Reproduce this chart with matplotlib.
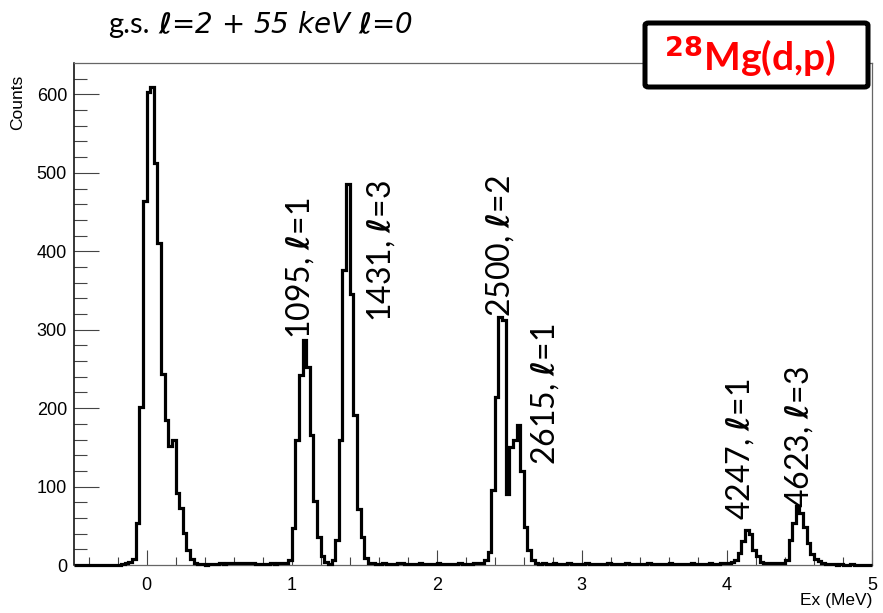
import numpy as np
import matplotlib
matplotlib.use('Agg')
import matplotlib.pyplot as plt
from matplotlib.patches import FancyBboxPatch

# excitation energy histogram, 25 keV bins from -0.5 to 5 MeV
bin_lo = -0.5
bin_hi = 5.0
bin_width = 0.025

counts = [
    0, 0, 0, 0, 0, 0, 0, 0, 0, 0, 0, 0,                       # -0.5 .. -0.2
    0, 1, 2, 4, 8,                                            # -0.2 .. -0.1
    54, 202, 464, 603, 609, 512, 410, 244, 185, 152, 160,     # g.s. + 55 keV
    92, 73, 41, 19, 8, 3,
    1, 1, 0, 1, 1, 1, 2, 1, 2, 2, 3, 2, 2, 3, 2, 2, 1, 1, 1, 1, 2, 1, 2, 2, 3, 6,
    47, 159, 242, 287, 253, 166, 81, 36, 11, 4,               # 1095
    1, 6,
    32, 159, 376, 486, 346, 191, 72, 36, 9, 3,                # 1431
    2, 1, 1, 2, 1, 1, 1, 2, 2, 1, 1, 1, 1, 2, 1, 1, 1, 1, 2, 1, 1, 1, 1, 1, 2, 1,
    1, 1, 2, 2, 3,
    6, 17, 96, 214, 316, 312, 91,                              # 2500
    150, 160, 178, 120, 49, 19, 6, 2,                          # 2615
    1, 2, 1, 1, 2, 1, 1, 1, 2, 1, 1, 1, 1, 2, 1, 1, 1, 1, 1, 2,
    1, 1, 1, 1, 2, 1, 1, 1, 1, 1, 2, 1, 1, 1, 1, 1, 2, 1, 1, 1,
    1, 1, 2, 1, 1, 1, 1, 2, 1, 1, 2, 2, 3, 4,
    6, 15, 30, 44, 40, 19, 11, 4,                              # 4247
    2, 2, 3, 2, 2, 3,
    6, 32, 54, 75, 66, 48, 28, 14, 8, 5, 3,                    # 4623
    1, 1, 1, 0, 1, 0, 0, 1, 0, 0, 0, 0, 0,
]

# state labels: x position, y of text bottom, energy (keV), l transfer
state_x = [1.06, 1.615, 2.434, 2.745, 4.09, 4.50]
state_y = [288, 310, 316, 127, 57, 73]
state_energy = ['1095', '1431', '2500', '2615', '4247', '4623']
state_l = ['1', '3', '2', '1', '1', '3']

edges = np.linspace(bin_lo, bin_hi, len(counts) + 1)

W, H = 883, 613
fig = plt.figure(figsize=(W / 100, H / 100), dpi=100)
ax = fig.add_axes([74 / W, 1 - 565 / H, 798 / W, 502 / H])

ax.stairs(counts, edges, color='black', lw=2.3, clip_on=False, zorder=3)

ax.set_xlim(-0.5, 5)
ax.set_ylim(0, 640)
ax.set_xticks([0, 1, 2, 3, 4, 5])
ax.set_xticks(np.arange(-0.4, 5.0, 0.2), minor=True)
ax.set_yticks(np.arange(0, 700, 100))
ax.set_yticks(np.arange(0, 640, 20), minor=True)

tick_font = {'family': 'Liberation Sans', 'size': 13}
ax.set_xticklabels(['0', '1', '2', '3', '4', '5'], **tick_font)
ax.set_yticklabels([str(v) for v in range(0, 700, 100)], **tick_font)

ax.tick_params(axis='x', which='major', direction='in', length=11, width=0.8,
               color='#444444', pad=9)
ax.tick_params(axis='x', which='minor', direction='in', length=5.5, width=0.8,
               color='#444444')
ax.tick_params(axis='y', which='major', direction='in', length=18, width=0.8,
               color='#444444', pad=5)
ax.tick_params(axis='y', which='minor', direction='in', length=9, width=0.8,
               color='#444444')
for side in ['top', 'right', 'bottom']:
    ax.spines[side].set_color('#666666')
    ax.spines[side].set_linewidth(0.9)
ax.spines['left'].set_color('black')
ax.spines['left'].set_linewidth(1.1)

fig.text(872 / W, 1 - 600 / H, 'Ex (MeV)', ha='right', va='center',
         family='Liberation Sans', fontsize=12.5)
fig.text(18 / W, 1 - 130 / H, 'Counts', ha='center', va='bottom', rotation=90,
         family='Liberation Sans', fontsize=12.5)

# peak labels
for x, y, e, l in zip(state_x, state_y, state_energy, state_l):
    ax.text(x, y, e + r', $\boldsymbol{\ell}$=' + l, rotation=90,
            ha='center', va='bottom', family='Lato', fontsize=23, zorder=4)

# header line above the frame
fig.text(108 / W, 1 - 33 / H, 'g.s.', ha='left', va='baseline',
         family='Lato', fontsize=21)
fig.text(158 / W, 1 - 33 / H,
         r'$\boldsymbol{\ell}$=2 + 55 keV $\boldsymbol{\ell}$=0',
         ha='left', va='baseline', family='DejaVu Sans', fontstyle='italic',
         fontsize=20)

box = FancyBboxPatch((645 / W, 1 - 87 / H), 223 / W, 64 / H,
                     boxstyle='round,pad=0,rounding_size=0.004',
                     transform=fig.transFigure, facecolor='white',
                     edgecolor='black', lw=3.6, zorder=10)
fig.patches.append(box)
fig.text(750 / W, 1 - 56 / H, r'$^{\mathbf{28}}$Mg(d,p)', ha='center', va='center',
         color='#ff0000', family='Lato', fontweight='bold', fontsize=28, zorder=11)

fig.savefig('out.png', dpi=100)
